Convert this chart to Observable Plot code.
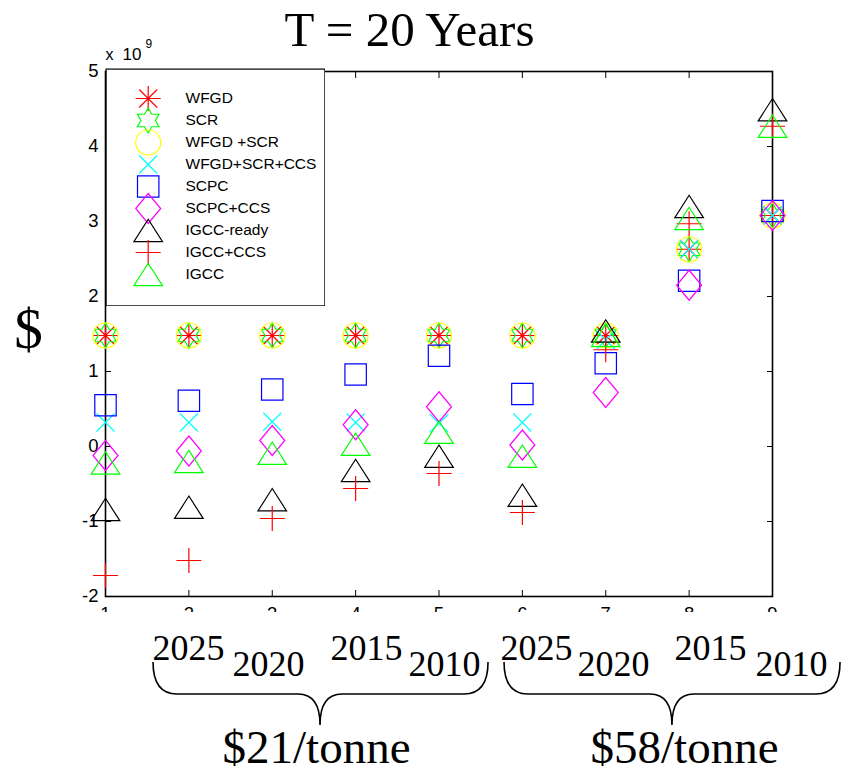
<!DOCTYPE html>
<html>
<head>
<meta charset="utf-8">
<script src="https://cdn.jsdelivr.net/npm/d3@7"></script>
<script src="https://cdn.jsdelivr.net/npm/@observablehq/plot@0.6"></script>
<style>
  body { margin: 0; background: #fff; }
  #wrap { position: relative; width: 842px; height: 771px; overflow: hidden; background: #fff; }
  #wrap > svg { position: absolute; }
</style>
</head>
<body>
<div id="wrap"></div>
<script>
// Scenario index along the x axis
const cases = [1, 2, 3, 4, 5, 6, 7, 8, 9];

// Technology options
const series = ["WFGD", "SCR", "WFGD +SCR", "WFGD+SCR+CCS", "SCPC", "SCPC+CCS", "IGCC-ready", "IGCC+CCS", "IGCC"];
const colors = ["#ff0000", "#00ff00", "#ffff00", "#00ffff", "#0000ff", "#ff00ff", "#000000", "#ff0000", "#00ff00"];

// Net value in units of 10^9 $
const wfgd       = [1.48, 1.48, 1.48, 1.48, 1.48, 1.48, 1.48, 2.63, 3.08];
const scr        = [1.48, 1.48, 1.48, 1.48, 1.48, 1.48, 1.48, 2.63, 3.08];
const wfgdScr    = [1.48, 1.48, 1.48, 1.48, 1.48, 1.48, 1.48, 2.63, 3.08];
const wfgdScrCcs = [0.32, 0.32, 0.33, 0.32, 0.31, 0.32, 1.42, 2.63, 3.08];
const scpc       = [0.55, 0.61, 0.76, 0.96, 1.21, 0.70, 1.11, 2.21, 3.14];
const scpcCcs    = [-0.12, -0.06, 0.08, 0.29, 0.53, 0.02, 0.72, 2.15, 3.08];
const igccReady  = [-0.84, -0.81, -0.71, -0.32, -0.13, -0.65, 1.54, 3.20, 4.49];
const igccCcs    = [-1.72, -1.52, -0.96, -0.56, -0.36, -0.88, 1.29, 2.97, 4.27];
const igcc       = [-0.22, -0.20, -0.09, 0.03, 0.19, -0.13, 1.48, 3.04, 4.27];

const yTicks = [-2, -1, 0, 1, 2, 3, 4, 5];

// Labels under the axis
const years = ["2025", "2020", "2015", "2010"];
const prices = ["$21/tonne", "$58/tonne"];

const values = [wfgd, scr, wfgdScr, wfgdScrCcs, scpc, scpcCcs, igccReady, igccCcs, igcc];

// MATLAB-style marker shapes; r = 12 gives the nominal size
const shape = (fn) => ({draw(c, size) { fn(c, Math.sqrt(size / Math.PI) / 12); }});
const asterisk = shape((c, k) => {
  const a = 12.5 * k, b = 9 * k;
  c.moveTo(0, -a); c.lineTo(0, a); c.moveTo(-a, 0); c.lineTo(a, 0);
  c.moveTo(-b, -b); c.lineTo(b, b); c.moveTo(-b, b); c.lineTo(b, -b);
});
const hexagram = shape((c, k) => {
  const R = 12.5 * k, r = R / Math.sqrt(3);
  for (let i = 0; i < 12; i++) {
    const ang = i * Math.PI / 6 - Math.PI / 2, rr = i % 2 ? r : R;
    const px = rr * Math.cos(ang), py = rr * Math.sin(ang);
    if (i) c.lineTo(px, py); else c.moveTo(px, py);
  }
  c.closePath();
});
const circle = shape((c, k) => { const r = 12.5 * k; c.moveTo(r, 0); c.arc(0, 0, r, 0, 2 * Math.PI); });
const cross = shape((c, k) => { const a = 9 * k; c.moveTo(-a, -a); c.lineTo(a, a); c.moveTo(-a, a); c.lineTo(a, -a); });
const square = shape((c, k) => { const a = 10.7 * k; c.rect(-a, -a, 2 * a, 2 * a); });
const diamond = shape((c, k) => {
  const w = 12.5 * k, h = 15 * k;
  c.moveTo(0, -h); c.lineTo(w, 0); c.lineTo(0, h); c.lineTo(-w, 0); c.closePath();
});
const triangle = shape((c, k) => {
  const w = 14.3 * k, h = 11.2 * k;
  c.moveTo(0, -h); c.lineTo(w, h); c.lineTo(-w, h); c.closePath();
});
const plus = shape((c, k) => { const a = 12.5 * k; c.moveTo(0, -a); c.lineTo(0, a); c.moveTo(-a, 0); c.lineTo(a, 0); });

const symbols = [asterisk, hexagram, circle, cross, square, diamond, triangle, plus, triangle];

const sans = "Liberation Sans, Arial, Helvetica, sans-serif";
const serif = "Liberation Serif, Times New Roman, serif";
const markStroke = 1.2;

const main = Plot.plot({
  width: 842,
  height: 612,
  marginTop: 71,
  marginBottom: 16,
  marginLeft: 105,
  marginRight: 70,
  style: {fontFamily: sans, fontSize: "18.5px", color: "#000", background: "transparent"},
  x: {domain: [1, 9], label: null},
  y: {domain: [-2, 5], label: null},
  marks: [
    Plot.axisX(cases, {anchor: "bottom", tickSize: -6, tickPadding: 16, label: null, tickFormat: d => String(d)}),
    Plot.axisX(cases, {anchor: "top", tickSize: -6, label: null, tickFormat: () => ""}),
    Plot.axisY(yTicks, {anchor: "left", tickSize: -6, tickPadding: 13, label: null, tickFormat: d => String(d)}),
    Plot.axisY(yTicks, {anchor: "right", tickSize: -6, label: null, tickFormat: () => ""}),
    Plot.frame({stroke: "#000", strokeWidth: 1.6}),
    ...values.map((v, i) => Plot.dot(v, {
      x: cases, y: d => d, symbol: symbols[i], r: 12,
      stroke: colors[i], fill: "none", strokeWidth: markStroke
    })),
    Plot.text(["T = 20 Years"], {
      text: d => d, frameAnchor: "top", dx: -29.5, dy: -26, lineAnchor: "bottom",
      fontFamily: serif, fontSize: 49, fill: "#000"
    }),
    Plot.text(["$"], {
      text: d => d, frameAnchor: "left", dx: -77, dy: 14, lineAnchor: "bottom",
      textAnchor: "middle", fontFamily: serif, fontSize: 57, fill: "#000"
    }),
    Plot.text(["x"], {
      text: d => d, frameAnchor: "top-left", dy: -12, lineAnchor: "bottom",
      textAnchor: "start", fontSize: 16, fill: "#000"
    }),
    Plot.text(["10"], {
      text: d => d, frameAnchor: "top-left", dx: 17, dy: -12, lineAnchor: "bottom",
      textAnchor: "start", fontSize: 17, fill: "#000"
    }),
    Plot.text(["9"], {
      text: d => d, frameAnchor: "top-left", dx: 40, dy: -24, lineAnchor: "bottom",
      textAnchor: "start", fontSize: 12, fill: "#000"
    })
  ]
});
main.style.left = "0px";
main.style.top = "0px";

const legend = Plot.plot({
  width: 220,
  height: 238,
  margin: 0,
  style: {fontFamily: sans, fontSize: "15.5px", color: "#000", background: "transparent"},
  y: {type: "point", domain: series, range: [16, 220], axis: null},
  marks: [
    Plot.frame({stroke: "#000", strokeWidth: 1.2, fill: "#fff", inset: 0.6}),
    ...series.map((s, i) => Plot.dot([s], {
      y: d => d, frameAnchor: "left", dx: 42.7, symbol: symbols[i], r: 12,
      stroke: colors[i], fill: "none", strokeWidth: markStroke
    })),
    Plot.text(series, {y: d => d, text: d => d, frameAnchor: "left", dx: 80, textAnchor: "start", fill: "#000"})
  ]
});
legend.style.left = "105px";
legend.style.top = "68px";

// Layout of the grouped year labels and braces (in x-axis units)
const yearX = [1.995, 2.955, 4.13, 5.066, 6.169, 7.093, 8.257, 9.228];
const priceX = [3.531, 7.945];
const braceSpans = [[1.576, 3.579, 5.594], [5.786, 7.80, 9.816]];

const yearRows = [];
prices.forEach((p, g) => years.forEach((yr, j) => {
  yearRows.push({label: yr, x: yearX[g * 4 + j], low: j % 2 === 1});
}));

const brace = ([a, m, b]) => (index, {x, y}) => {
  const x0 = x(a), xm = x(m), x1 = x(b);
  const top = y(50), mid = y(82), tip = y(113), bend = 24, neck = 22;
  const p = d3.path();
  p.moveTo(x0, top);
  p.quadraticCurveTo(x0, mid, x0 + bend, mid);
  p.lineTo(xm - neck, mid);
  p.quadraticCurveTo(xm, mid, xm, tip);
  p.quadraticCurveTo(xm, mid, xm + neck, mid);
  p.lineTo(x1 - bend, mid);
  p.quadraticCurveTo(x1, mid, x1, top);
  return d3.create("svg:path")
    .attr("d", p.toString())
    .attr("fill", "none")
    .attr("stroke", "#000")
    .attr("stroke-width", 1.6)
    .node();
};

const notes = Plot.plot({
  width: 842,
  height: 159,
  marginTop: 0,
  marginBottom: 0,
  marginLeft: 105,
  marginRight: 70,
  style: {fontFamily: serif, color: "#000", background: "transparent"},
  x: {domain: [1, 9], axis: null},
  y: {domain: [0, 159], range: [0, 159], axis: null},
  marks: [
    Plot.text(yearRows, {
      x: "x", y: d => d.low ? 63 : 47, text: "label",
      lineAnchor: "bottom", fontSize: 36, fontFamily: serif, fill: "#000"
    }),
    ...braceSpans.map(brace),
    Plot.text(prices, {
      x: priceX, y: () => 150, text: d => d,
      lineAnchor: "bottom", fontSize: 47, fontFamily: serif, fill: "#000"
    })
  ]
});
notes.style.left = "0px";
notes.style.top = "612px";

const wrap = document.getElementById("wrap");
wrap.append(main, notes, legend);
</script>
</body>
</html>
